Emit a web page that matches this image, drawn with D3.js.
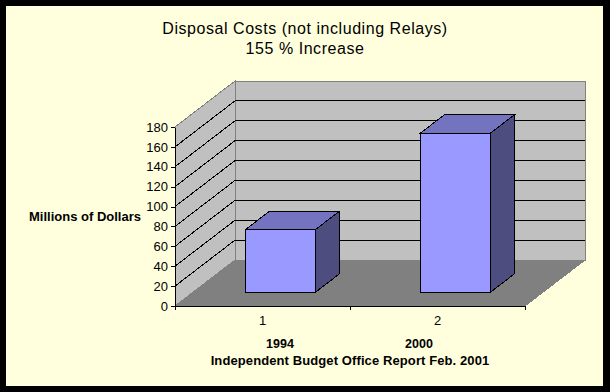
<!DOCTYPE html>
<html>
<head>
<meta charset="utf-8">
<script src="https://cdn.jsdelivr.net/npm/d3@7"></script>
<style>
  html, body { margin: 0; padding: 0; background: #000; }
  svg { display: block; }
  text { font-family: "Liberation Sans", Arial, sans-serif; fill: #000; }
  .tick text { font-size: 13px; }
  path, line, rect { shape-rendering: crispEdges; }
</style>
</head>
<body>
<div id="chart"></div>
<script>
var categories = ["1", "2"];
var values = [63, 160];
var yTicks = [0, 20, 40, 60, 80, 100, 120, 140, 160, 180];
var titleLines = ["Disposal Costs (not including Relays)", "155 % Increase"];
var yearLabels = ["1994", "2000"];
var yLabel = "Millions of Dollars";
var source = "Independent Budget Office Report Feb. 2001";

var width = 610, height = 392;
var plot = { left: 175, right: 525, top: 127, bottom: 306 };
// how far the back wall is shifted from the front of the box
var depth = { x: 60, y: -46 };

var svg = d3.select("#chart").append("svg")
  .attr("width", width)
  .attr("height", height);

// black frame, pale yellow panel
svg.append("rect")
  .attr("x", 6).attr("y", 6)
  .attr("width", 597).attr("height", 380)
  .attr("fill", "#ffffdd");

var xScale = d3.scaleBand()
  .domain(categories)
  .range([plot.left, plot.right])
  .paddingInner(0.6)
  .paddingOuter(0.3);

var xEdges = d3.scaleLinear()
  .domain([0, categories.length])
  .range([plot.left, plot.right]);

var yScale = d3.scaleLinear()
  .domain([0, 180])
  .range([plot.bottom, plot.top]);

function poly(points) {
  return "M" + points.map(p => p.join(",")).join("L") + "Z";
}

var box = svg.append("g").attr("class", "box");

// left wall
box.append("path")
  .attr("d", poly([
    [plot.left, plot.bottom],
    [plot.left + depth.x, plot.bottom + depth.y],
    [plot.left + depth.x, plot.top + depth.y],
    [plot.left, plot.top]
  ]))
  .attr("fill", "#c0c0c0")
  .attr("stroke", "#808080");

// back wall
box.append("path")
  .attr("d", poly([
    [plot.left + depth.x, plot.bottom + depth.y],
    [plot.right + depth.x, plot.bottom + depth.y],
    [plot.right + depth.x, plot.top + depth.y],
    [plot.left + depth.x, plot.top + depth.y]
  ]))
  .attr("fill", "#c0c0c0")
  .attr("stroke", "#808080");

// floor
box.append("path")
  .attr("d", poly([
    [plot.left, plot.bottom],
    [plot.right, plot.bottom],
    [plot.right + depth.x, plot.bottom + depth.y],
    [plot.left + depth.x, plot.bottom + depth.y]
  ]))
  .attr("fill", "#808080")
  .attr("stroke", "#808080");

// gridlines, along the left wall then across the back
var gridValues = yTicks.filter(d => d > 0 && d < 180);

box.selectAll(".grid-side")
  .data(gridValues)
  .enter()
  .append("line")
  .attr("class", "grid-side")
  .attr("x1", plot.left)
  .attr("y1", d => yScale(d))
  .attr("x2", plot.left + depth.x)
  .attr("y2", d => yScale(d) + depth.y)
  .attr("stroke", "#000");

box.selectAll(".grid-back")
  .data(gridValues)
  .enter()
  .append("line")
  .attr("class", "grid-back")
  .attr("x1", plot.left + depth.x)
  .attr("y1", d => yScale(d) + depth.y)
  .attr("x2", plot.right + depth.x)
  .attr("y2", d => yScale(d) + depth.y)
  .attr("stroke", "#000");

// bars sit from 0.3 to 0.7 of the floor depth
var barFront = 0.3, barBack = 0.7;
var barDx = depth.x * (barBack - barFront);
var barDy = depth.y * (barBack - barFront);
var barOffX = depth.x * barFront;
var barOffY = depth.y * barFront;

var bars = svg.append("g").attr("class", "bars")
  .selectAll("g")
  .data(categories.map((c, i) => ({ cat: c, value: values[i] })))
  .enter()
  .append("g")
  .attr("transform", `translate(${barOffX},${barOffY})`);

bars.append("path")
  .attr("d", d => {
    var x1 = xScale(d.cat) + xScale.bandwidth();
    return poly([
      [x1, yScale(0)],
      [x1 + barDx, yScale(0) + barDy],
      [x1 + barDx, yScale(d.value) + barDy],
      [x1, yScale(d.value)]
    ]);
  })
  .attr("fill", "#4d4d80")
  .attr("stroke", "#000");

bars.append("path")
  .attr("d", d => {
    var x0 = xScale(d.cat), x1 = x0 + xScale.bandwidth(), t = yScale(d.value);
    return poly([
      [x0, t],
      [x1, t],
      [x1 + barDx, t + barDy],
      [x0 + barDx, t + barDy]
    ]);
  })
  .attr("fill", "#7373bf")
  .attr("stroke", "#000");

bars.append("rect")
  .attr("x", d => xScale(d.cat))
  .attr("y", d => yScale(d.value))
  .attr("width", xScale.bandwidth())
  .attr("height", d => yScale(0) - yScale(d.value))
  .attr("fill", "#9999ff")
  .attr("stroke", "#000");

// Y axis
var yAxisG = svg.append("g")
  .attr("transform", `translate(${plot.left},0)`)
  .call(d3.axisLeft(yScale).tickValues(yTicks).tickSize(4).tickSizeOuter(0).tickPadding(3));
yAxisG.select(".domain").attr("stroke", "#000");

// X axis: ticks on the band edges, labels in the band centres
svg.append("g")
  .attr("transform", `translate(0,${plot.bottom})`)
  .call(d3.axisBottom(xEdges).tickValues([0, 1, 2]).tickSize(4).tickSizeOuter(0).tickFormat(""));

svg.append("g")
  .attr("transform", `translate(0,${plot.bottom})`)
  .call(d3.axisBottom(xScale).tickSize(0).tickPadding(10))
  .call(g => g.select(".domain").remove());

// Titles and notes
svg.selectAll(".title")
  .data(titleLines)
  .enter()
  .append("text")
  .attr("class", "title")
  .attr("x", 305)
  .attr("y", (d, i) => 34 + i * 20)
  .attr("text-anchor", "middle")
  .style("font-size", "16px")
  .style("letter-spacing", "0.55px")
  .text(d => d);

svg.append("text")
  .attr("x", 29)
  .attr("y", 221)
  .style("font-size", "13px")
  .style("font-weight", "bold")
  .text(yLabel);

svg.selectAll(".year")
  .data(yearLabels)
  .enter()
  .append("text")
  .attr("class", "year")
  .attr("x", (d, i) => [280, 419][i])
  .attr("y", 348)
  .attr("text-anchor", "middle")
  .style("font-size", "12.5px")
  .style("font-weight", "bold")
  .text(d => d);

svg.append("text")
  .attr("x", 350)
  .attr("y", 365)
  .attr("text-anchor", "middle")
  .style("font-size", "13px")
  .style("letter-spacing", "0.1px")
  .style("font-weight", "bold")
  .text(source);
</script>
</body>
</html>
